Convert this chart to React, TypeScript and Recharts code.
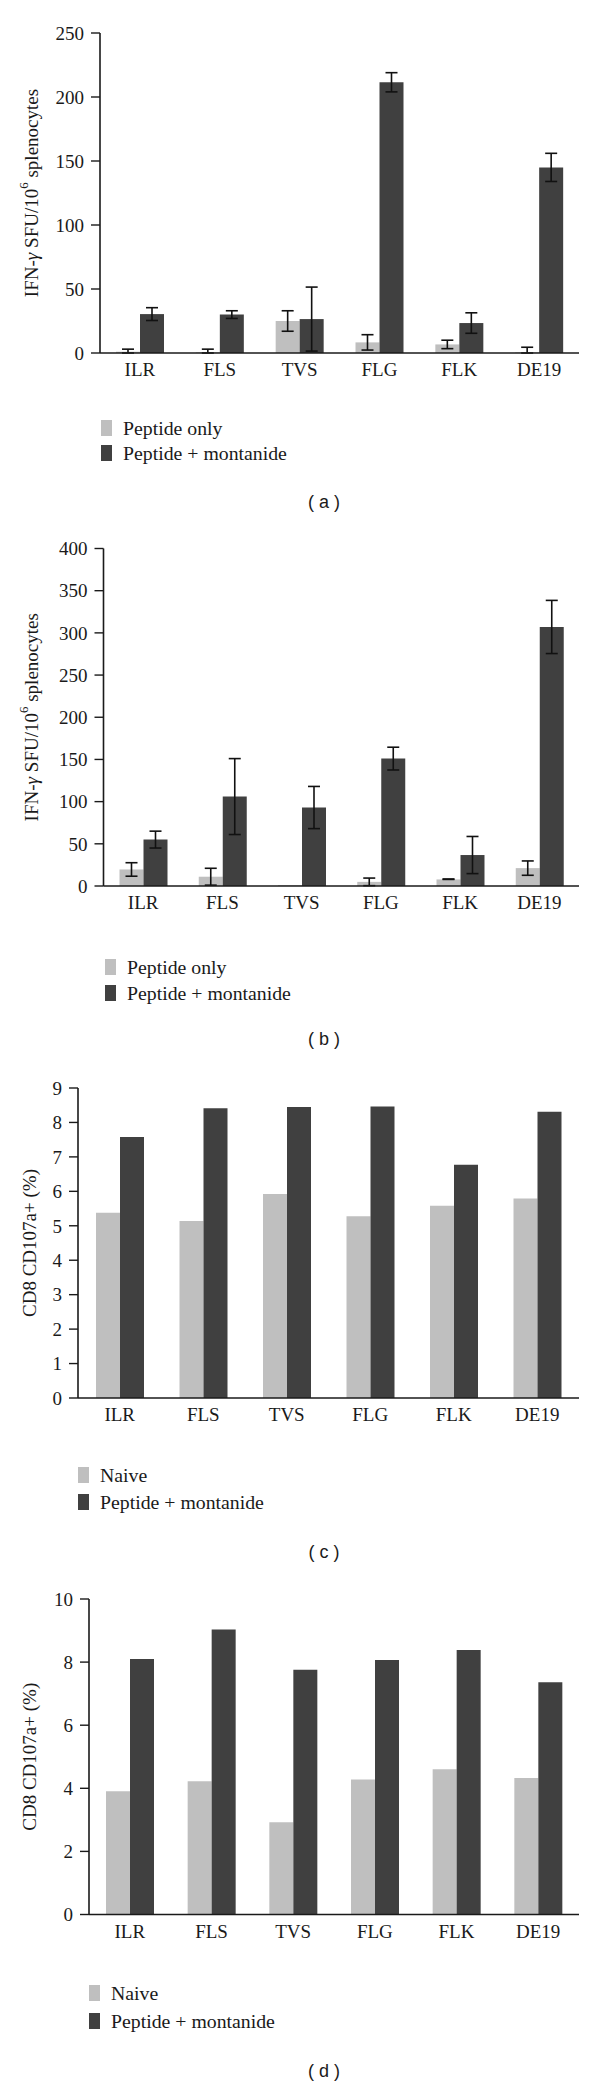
import { BarChart, Bar, XAxis, YAxis, ErrorBar, Label } from "recharts";

const FONT = '"Liberation Serif", "Times New Roman", serif';
const LIGHT = "#bfbfbf";
const DARK = "#404040";
const INK = "#1a1a1a";

const CATEGORIES = ["ILR", "FLS", "TVS", "FLG", "FLK", "DE19"];

// (a) IFN-γ ELISPOT
const A_PEPTIDE_ONLY = [1, 0.5, 25, 8.3, 6.7, 0.5];
const A_PEPTIDE_ONLY_ERR = [[1, 2], [0.5, 2.5], 8, 6, 3.3, [0.5, 4]];
const A_MONTANIDE = [30.4, 30, 26.5, 211.5, 23.4, 145];
const A_MONTANIDE_ERR = [5, 3, 25, 7.5, 8, 11];
const A_TICKS = [0, 50, 100, 150, 200, 250];

// (b) IFN-γ ELISPOT
const B_PEPTIDE_ONLY = [19.6, 11, 1, 4.9, 7.8, 21.2];
const B_PEPTIDE_ONLY_ERR = [8, 10, 0, 4.5, [0, 0.5], 8.5];
const B_MONTANIDE = [55, 106, 93, 151, 36.7, 307];
const B_MONTANIDE_ERR = [10, 45, 25, 13.5, 22, 31.5];
const B_TICKS = [0, 50, 100, 150, 200, 250, 300, 350, 400];

// (c) CD107a degranulation
const C_NAIVE = [5.38, 5.14, 5.92, 5.28, 5.58, 5.79];
const C_MONTANIDE = [7.58, 8.41, 8.45, 8.46, 6.77, 8.31];
const C_TICKS = [0, 1, 2, 3, 4, 5, 6, 7, 8, 9];

// (d) CD107a degranulation
const D_NAIVE = [3.91, 4.22, 2.92, 4.28, 4.6, 4.33];
const D_MONTANIDE = [8.1, 9.03, 7.76, 8.07, 8.38, 7.36];
const D_TICKS = [0, 2, 4, 6, 8, 10];

function makeRows(light: number[], dark: number[], lightErr?: any[], darkErr?: any[]) {
    return CATEGORIES.map((name, i) => ({
        name,
        light: light[i],
        dark: dark[i],
        lightErr: lightErr ? lightErr[i] : undefined,
        darkErr: darkErr ? darkErr[i] : undefined,
    }));
}

function yLabel(cx: number, kind: "ifn" | "cd8") {
    return (props: any) => {
        const vb = props.viewBox;
        const cy = vb.y + vb.height / 2;
        return (
            <text
                x={cx}
                y={cy}
                transform={`rotate(-90, ${cx}, ${cy})`}
                textAnchor="middle"
                dominantBaseline="central"
                fontFamily={FONT}
                fontSize={19}
                fill={INK}
            >
                {kind === "ifn" ? (
                    <>
                        <tspan>IFN-</tspan>
                        <tspan fontStyle="italic">γ</tspan>
                        <tspan> SFU/10</tspan>
                        <tspan dy={-8} fontSize={13}>6</tspan>
                        <tspan dy={8}> splenocytes</tspan>
                    </>
                ) : (
                    "CD8 CD107a+ (%)"
                )}
            </text>
        );
    };
}

interface PanelProps {
    top: number;
    plotTop: number;
    plotBottom: number;
    axisX: number;
    yMax: number;
    ticks: number[];
    data: any[];
    errors: boolean;
    kind: "ifn" | "cd8";
    labelX: number;
}

function Panel({ top, plotTop, plotBottom, axisX, yMax, ticks, data, errors, kind, labelX }: PanelProps) {
    const H = 520;
    const tick = { fontSize: 19, fill: INK, fontFamily: FONT };
    return (
        <div style={{ position: "absolute", left: 0, top }}>
            <BarChart
                width={600}
                height={H}
                data={data}
                barSize={24}
                barGap={0}
                margin={{ top: plotTop, right: 21, left: 0, bottom: H - plotBottom - 30 }}
            >
                <XAxis
                    dataKey="name"
                    height={30}
                    tickLine={false}
                    tickSize={0}
                    tickMargin={10}
                    axisLine={{ stroke: INK, strokeWidth: 1.6 }}
                    tick={tick}
                />
                <YAxis
                    width={axisX}
                    domain={[0, yMax]}
                    ticks={ticks}
                    interval={0}
                    tickSize={9}
                    tickMargin={7}
                    axisLine={{ stroke: INK, strokeWidth: 1.6 }}
                    tickLine={{ stroke: INK, strokeWidth: 1.4 }}
                    tick={tick}
                >
                    <Label content={yLabel(labelX, kind)} />
                </YAxis>
                <Bar dataKey="light" fill={LIGHT} isAnimationActive={false}>
                    {errors && (
                        <ErrorBar dataKey="lightErr" width={6} stroke="#111" strokeWidth={1.6} direction="y" />
                    )}
                </Bar>
                <Bar dataKey="dark" fill={DARK} isAnimationActive={false}>
                    {errors && (
                        <ErrorBar dataKey="darkErr" width={6} stroke="#111" strokeWidth={1.6} direction="y" />
                    )}
                </Bar>
            </BarChart>
        </div>
    );
}

function LegendBlock({ x, rows, lightLabel }: { x: number; rows: [number, number]; lightLabel: string }) {
    const items = [
        { label: lightLabel, color: LIGHT },
        { label: "Peptide + montanide", color: DARK },
    ];
    return (
        <>
            {items.map((it, i) => (
                <div
                    key={it.label}
                    style={{
                        position: "absolute",
                        left: x,
                        top: rows[i] - 12,
                        height: 24,
                        lineHeight: "24px",
                        display: "flex",
                        alignItems: "center",
                        fontFamily: FONT,
                        fontSize: 19.8,
                        color: INK,
                        whiteSpace: "nowrap",
                    }}
                >
                    <span style={{ display: "inline-block", width: 11, height: 16, background: it.color, marginRight: 11 }} />
                    {it.label}
                </div>
            ))}
        </>
    );
}

function Caption({ y, text }: { y: number; text: string }) {
    return (
        <div
            style={{
                position: "absolute",
                left: 274,
                width: 100,
                top: y - 12,
                lineHeight: "24px",
                textAlign: "center",
                fontFamily: '"Liberation Sans", Arial, sans-serif',
                fontSize: 18,
                color: INK,
            }}
        >
            {text}
        </div>
    );
}

export default function App() {
    const dataA = makeRows(A_PEPTIDE_ONLY, A_MONTANIDE, A_PEPTIDE_ONLY_ERR, A_MONTANIDE_ERR);
    const dataB = makeRows(B_PEPTIDE_ONLY, B_MONTANIDE, B_PEPTIDE_ONLY_ERR, B_MONTANIDE_ERR);
    const dataC = makeRows(C_NAIVE, C_MONTANIDE);
    const dataD = makeRows(D_NAIVE, D_MONTANIDE);

    return (
        <div style={{ position: "absolute", left: 0, top: 0, width: 600, height: 2082, background: "#fff" }}>
            <Panel top={0} plotTop={33} plotBottom={353} axisX={100} yMax={250} ticks={A_TICKS} data={dataA} errors kind="ifn" labelX={31} />
            <LegendBlock x={101} rows={[428, 453]} lightLabel="Peptide only" />
            <Caption y={502} text="( a )" />

            <Panel top={520} plotTop={28.5} plotBottom={366} axisX={103.5} yMax={400} ticks={B_TICKS} data={dataB} errors kind="ifn" labelX={31} />
            <LegendBlock x={105} rows={[967, 993]} lightLabel="Peptide only" />
            <Caption y={1039} text="( b )" />

            <Panel top={1040} plotTop={48} plotBottom={358} axisX={78} yMax={9} ticks={C_TICKS} data={dataC} errors={false} kind="cd8" labelX={29} />
            <LegendBlock x={78} rows={[1475, 1502]} lightLabel="Naive" />
            <Caption y={1552} text="( c )" />

            <Panel top={1560} plotTop={39} plotBottom={354.5} axisX={89} yMax={10} ticks={D_TICKS} data={dataD} errors={false} kind="cd8" labelX={29} />
            <LegendBlock x={89} rows={[1993, 2021]} lightLabel="Naive" />
            <Caption y={2071} text="( d )" />
        </div>
    );
}
